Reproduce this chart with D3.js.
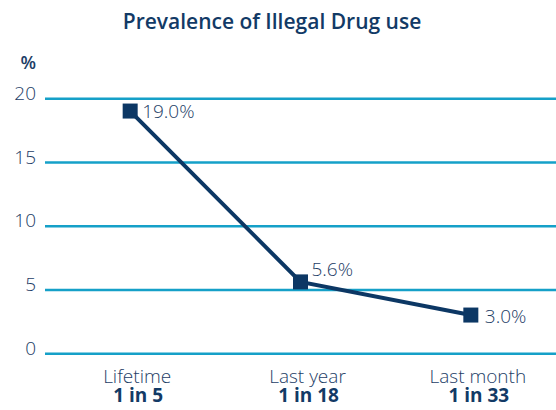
<!DOCTYPE html>
<html><head><meta charset="utf-8">
<script src="https://cdn.jsdelivr.net/npm/d3@7"></script>
<style>
body{margin:0;background:#fff;}
text{font-family:"Open Sans","Noto Sans",sans-serif;}
</style></head>
<body>
<svg id="chart" width="556" height="410"></svg>
<script>
const categories = ["Lifetime", "Last year", "Last month"];
const ratios = ["1 in 5", "1 in 18", "1 in 33"];
const values = [19.0, 5.6, 3.0];
const valueLabels = ["19.0%", "5.6%", "3.0%"];
const yTicks = [0, 5, 10, 15, 20];
const title = "Prevalence of Illegal Drug use";

const svg = d3.select("#chart");
const navy = "#0c3764", grid = "#15a0c8", txt = "#1d3d66";
const mLeft = 45, mRight = 556, mTop = 98.3, mBottom = 353.3;

const x = d3.scalePoint().domain(categories).range([mLeft, mRight]).padding(0.5);
const y = d3.scaleLinear().domain([0, 20]).range([mBottom, mTop]);

svg.append("text").attr("x", 272).attr("y", 28.5).attr("text-anchor", "middle")
  .attr("font-size", 21).attr("font-weight", 600).attr("fill", "#123a66").text(title);

svg.append("text").attr("x", 36).attr("y", 69).attr("text-anchor", "end")
  .attr("font-size", 18).attr("font-weight", 600).attr("fill", txt).text("%");

// grid
const yAxis = d3.axisLeft(y).tickValues(yTicks).tickSize(-(mRight - mLeft)).tickPadding(9);
const ga = svg.append("g").attr("transform", `translate(${mLeft},0)`).call(yAxis);
ga.select(".domain").remove();
ga.selectAll(".tick line").attr("stroke", grid).attr("stroke-width", 2.5);
ga.selectAll(".tick text").attr("font-size", 19).attr("font-weight", 300).attr("fill", txt)
  .attr("font-family", "'Open Sans','Noto Sans',sans-serif").attr("dy", "0.05em");

// x labels
const xa = svg.append("g");
categories.forEach((c, i) => {
  xa.append("text").attr("x", x(c) + 7).attr("y", 383).attr("text-anchor", "middle")
    .attr("font-size", 19).attr("font-weight", 300).attr("fill", txt).text(c);
  xa.append("text").attr("x", x(c) + 8).attr("y", 401.5).attr("text-anchor", "middle")
    .attr("font-size", 19).attr("font-weight", 700).attr("fill", "#123a66").text(ratios[i]);
});

// line
const line = d3.line().x((d, i) => x(categories[i])).y(d => y(d));
svg.append("path").datum(values).attr("d", line).attr("fill", "none")
  .attr("stroke", navy).attr("stroke-width", 4);

const sz = 15;
svg.selectAll("rect.pt").data(values).enter().append("rect").attr("class", "pt")
  .attr("x", (d, i) => x(categories[i]) - sz / 2).attr("y", d => y(d) - sz / 2)
  .attr("width", sz).attr("height", sz).attr("fill", navy);

const offs = [[12, 7], [11, -6], [14, 8]];
svg.selectAll("text.vl").data(values).enter().append("text").attr("class", "vl")
  .attr("x", (d, i) => x(categories[i]) + offs[i][0]).attr("y", (d, i) => y(d) + offs[i][1])
  .attr("font-size", 19).attr("font-weight", 300).attr("fill", txt).text((d, i) => valueLabels[i]);
</script>
</body></html>
